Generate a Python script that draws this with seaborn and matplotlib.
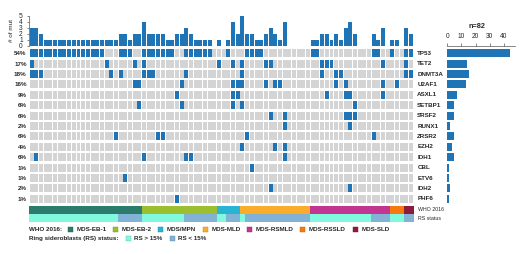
import numpy as np
import pandas as pd
import matplotlib
matplotlib.use("Agg")
import matplotlib.pyplot as plt
from matplotlib.patches import Rectangle
from matplotlib.transforms import blended_transform_factory
import seaborn as sns

# ---------------- data ----------------
N_SAMPLES = 82
genes = ['TP53', 'TET2', 'DNMT3A', 'U2AF1', 'ASXL1', 'SETBP1', 'SRSF2', 'RUNX1',
         'ZRSR2', 'EZH2', 'IDH1', 'CBL', 'ETV6', 'IDH2', 'PHF6']
pct_labels = ['54%', '17%', '18%', '16%', '9%', '6%', '6%', '2%', '6%', '4%', '6%',
              '1%', '1%', '2%', '1%']

# mutated sample indices per gene (column order of the oncoprint)
tp53 = [0, 1, 2, 3, 4, 5, 6, 7, 8, 9, 10, 11, 12, 13, 14, 15, 19, 20, 21, 24, 25, 26,
        27, 28, 29, 30, 33, 34, 35, 36, 37, 38, 42, 46, 47, 48, 49, 60, 61, 73, 74, 77,
        80, 81]
tet2 = [0, 16, 22, 24, 40, 43, 45, 50, 51, 62, 63, 64, 75, 80]
dnmt3a = [0, 1, 2, 17, 19, 24, 25, 26, 33, 45, 62, 65, 66, 80, 81]
u2af1 = [22, 23, 32, 43, 44, 45, 50, 52, 53, 65, 67, 75, 78]
asxl1 = [31, 43, 44, 63, 67, 68, 75]
setbp1 = [23, 32, 43, 45, 69]
srsf2 = [51, 54, 67, 68, 69]
runx1 = [54, 68]
zrsr2 = [18, 27, 28, 46, 73]
ezh2 = [45, 52, 54]
idh1 = [1, 24, 33, 34, 54]
cbl = [47]
etv6 = [20]
idh2 = [51, 68]
phf6 = [31]
gene_lists = [tp53, tet2, dnmt3a, u2af1, asxl1, setbp1, srsf2, runx1, zrsr2, ezh2,
              idh1, cbl, etv6, idh2, phf6]

who_cats = ['MDS-EB-1', 'MDS-EB-2', 'MDS/MPN', 'MDS-MLD', 'MDS-RSMLD', 'MDS-RSSLD', 'MDS-SLD']
who_counts = [24, 16, 5, 15, 17, 3, 2]
rs_cats = ['RS > 15%', 'RS < 15%']
rs_seq = ['RS > 15%', 'RS < 15%', 'RS > 15%', 'RS < 15%', 'RS > 15%', 'RS < 15%',
          'RS > 15%', 'RS < 15%', 'RS > 15%', 'RS < 15%', 'RS > 15%', 'RS < 15%']
rs_counts = [19, 5, 9, 7, 2, 3, 1, 14, 13, 4, 3, 2]

# ---------------- style ----------------
BLUE = '#1f74b6'
GREY = '#d4d4d4'
who_colors = {'MDS-EB-1': '#2b7c6c', 'MDS-EB-2': '#9bbf2e', 'MDS/MPN': '#28b4d2',
              'MDS-MLD': '#fbac2a', 'MDS-RSMLD': '#c23591', 'MDS-RSSLD': '#f67a10',
              'MDS-SLD': '#8e1b3b'}
rs_colors = {'RS > 15%': '#80f9df', 'RS < 15%': '#82b2d5'}

sns.set_style('white')
plt.rcParams['font.family'] = ['Liberation Sans', 'DejaVu Sans']

M = np.zeros((len(genes), N_SAMPLES), dtype=int)
for i, lst in enumerate(gene_lists):
    M[i, lst] = 1

W, H = 520, 254
fig = plt.figure(figsize=(W / 100, H / 100), dpi=100)


def ax_px(x0, y0, x1, y1):
    return fig.add_axes([x0 / W, 1 - y1 / H, (x1 - x0) / W, (y1 - y0) / H])


GX0, GX1 = 29.3, 413.5
ax_top = ax_px(GX0, 16, GX1, 46)
ax_grid = ax_px(GX0, 48.1, GX1, 204.0)
ax_ann = ax_px(GX0, 205.5, GX1, 222.5)
ax_right = ax_px(447.3, 46.0, 515.3, 204.0)

# ---- top: number of mutations per sample
df_top = pd.DataFrame({'sample': np.arange(N_SAMPLES), 'n': M.sum(axis=0)})
sns.barplot(data=df_top, x='sample', y='n', color=BLUE, saturation=1, width=0.85,
            ax=ax_top, linewidth=0)
ax_top.set_xlim(-0.5, N_SAMPLES - 0.5)
ax_top.set_ylim(0, 5)
ax_top.set_xticks([])
ax_top.set_yticks([0, 1, 2, 3, 4, 5])
ax_top.set_xlabel('')
ax_top.set_ylabel('')
for s in ['top', 'right', 'bottom']:
    ax_top.spines[s].set_visible(False)
ax_top.spines['left'].set_color('#555555')
ax_top.spines['left'].set_linewidth(0.5)
ax_top.tick_params(axis='y', length=1.5, width=0.5, color='#555555', pad=3.2,
                   labelsize=4.8, left=True)
ax_top.patch.set_alpha(0)
fig.text(11.3 / W, 1 - 31 / H, '# of mut', rotation=90, ha='center', va='center',
         fontsize=4.6)

# ---- oncoprint grid
xs = np.arange(N_SAMPLES)
for i in range(len(genes)):
    cols = [BLUE if v else GREY for v in M[i]]
    ax_grid.bar(xs, 0.77, bottom=i - 0.385, width=0.85, color=cols, linewidth=0)
ax_grid.set_xlim(-0.5, N_SAMPLES - 0.5)
ax_grid.set_ylim(len(genes) - 0.5, -0.5)
for s in ax_grid.spines.values():
    s.set_visible(False)
ax_grid.set_xticks([])
ax_grid.set_yticks(range(len(genes)))
ax_grid.set_yticklabels(pct_labels, fontsize=4.5, fontweight='bold')
ax_grid.tick_params(axis='y', length=0, pad=1.9)
ax_grid.patch.set_alpha(0)
tr = blended_transform_factory(ax_grid.transAxes, ax_grid.transData)
for i, g in enumerate(genes):
    ax_grid.text(1 + 3.8 / (GX1 - GX0), i, g, transform=tr, ha='left', va='center',
                 fontsize=4.5, fontweight='bold')

# ---- annotation tracks
starts = np.cumsum([0] + who_counts[:-1])
ax_ann.bar(starts - 0.5, 0.95, width=who_counts, bottom=0.02, align='edge',
           color=[who_colors[c] for c in who_cats], linewidth=0)
rs_starts = np.cumsum([0] + rs_counts[:-1])
ax_ann.bar(rs_starts - 0.5, 0.96, width=rs_counts, bottom=1.02, align='edge',
           color=[rs_colors[c] for c in rs_seq], linewidth=0)
ax_ann.set_xlim(-0.5, N_SAMPLES - 0.5)
ax_ann.set_ylim(2, 0)
ax_ann.axis('off')
tr2 = blended_transform_factory(ax_ann.transAxes, ax_ann.transData)
ax_ann.text(1 + 4.2 / (GX1 - GX0), 0.5, 'WHO 2016', transform=tr2, ha='left',
            va='center', fontsize=3.8)
ax_ann.text(1 + 4.2 / (GX1 - GX0), 1.5, 'RS status', transform=tr2, ha='left',
            va='center', fontsize=3.8)

# ---- right: mutation counts per gene
df_r = pd.DataFrame({'gene': genes, 'count': M.sum(axis=1)})
sns.barplot(data=df_r, y='gene', x='count', orient='h', color=BLUE, saturation=1,
            width=0.77, ax=ax_right, linewidth=0)
ax_right.set_xlim(0, 48)
ax_right.set_ylim(len(genes) - 0.5, -0.7)
ax_right.set_xlabel('')
ax_right.set_ylabel('')
ax_right.set_yticks([])
ax_right.xaxis.set_ticks_position('top')
ax_right.set_xticks([0, 10, 20, 30, 40])
ax_right.tick_params(axis='x', top=True, bottom=False, labeltop=True, labelbottom=False,
                     length=1.9, width=0.5, color='#555555', pad=2.4, labelsize=4.8)
for s in ['bottom', 'left', 'right']:
    ax_right.spines[s].set_visible(False)
ax_right.spines['top'].set_color('#555555')
ax_right.spines['top'].set_linewidth(0.5)
ax_right.patch.set_alpha(0)
fig.text(476.7 / W, 1 - 26.7 / H, 'n=82', ha='center', va='center', fontsize=5.2,
         fontweight='bold')


# ---- legends
def darker(c, f=0.75):
    r, g, b = matplotlib.colors.to_rgb(c)
    return (r * f, g * f, b * f)


def legend_item(xsq, xtxt, yc, color, label):
    fig.add_artist(Rectangle((xsq / W, 1 - (yc + 2.5) / H), 5 / W, 5 / H,
                             transform=fig.transFigure, facecolor=color,
                             edgecolor=darker(color), linewidth=0.3))
    fig.text(xtxt / W, 1 - yc / H, label, ha='left', va='center', fontsize=4.5,
             fontweight='bold')


Y1, Y2 = 229.2, 238.3
fig.text(29.3 / W, 1 - Y1 / H, 'WHO 2016:', ha='left', va='center', fontsize=4.5,
         fontweight='bold')
who_sq_x = [68.3, 113.3, 158.3, 203.3, 247.3, 300.0, 353.3]
for xsq, c in zip(who_sq_x, who_cats):
    legend_item(xsq, xsq + 8.4, Y1, who_colors[c], c)
fig.text(29.3 / W, 1 - Y2 / H, 'Ring sideroblasts (RS) status:', ha='left', va='center',
         fontsize=4.5, fontweight='bold')
for xsq, c in zip([126.0, 170.0], rs_cats):
    legend_item(xsq, xsq + 8.3, Y2, rs_colors[c], c)

fig.savefig('out.png', dpi=100)
